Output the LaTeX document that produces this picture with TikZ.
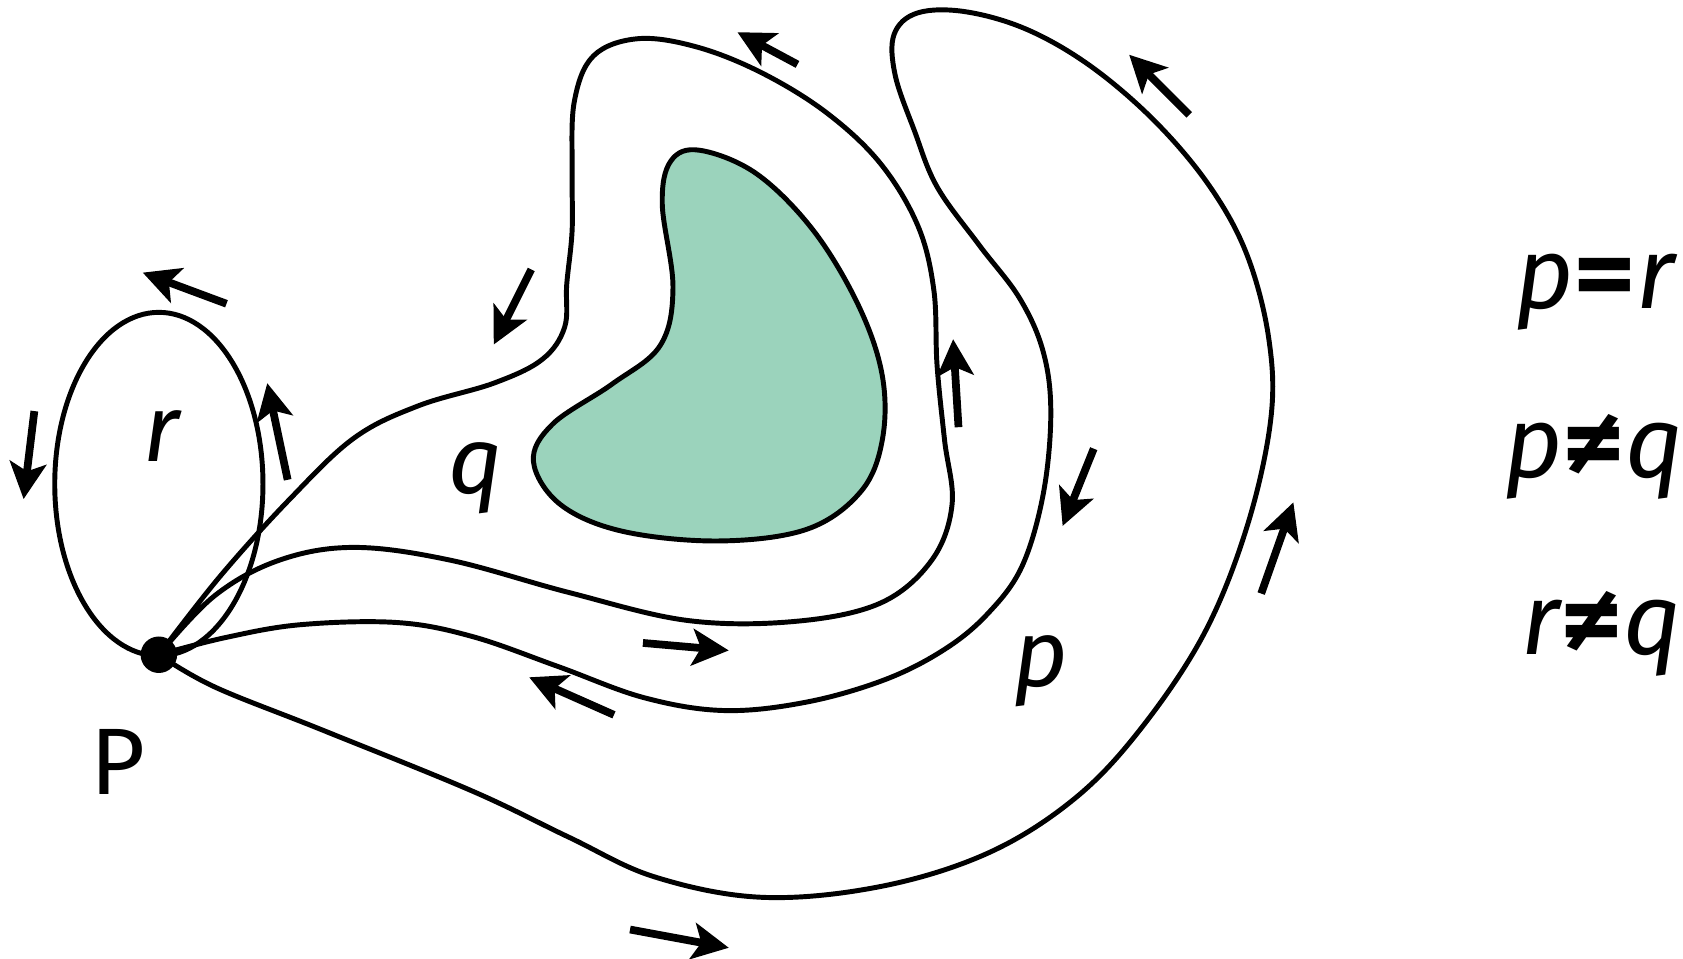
\documentclass[tikz,border=0pt]{standalone}
\usepackage{fontspec}
\setmainfont{Fira Sans}
\usetikzlibrary{arrows.meta}
\definecolor{mint}{HTML}{9BD3BC}
\newcommand{\releq}{\scalebox{1.2}[1]{\upshape\bfseries =}}
\newcommand{\relneq}{\scalebox{1.2}[1]{\upshape\bfseries ≠}}
\begin{document}
\begin{tikzpicture}[x=0.5pt,y=-0.5pt,
  curve/.style={line width=2.3pt, line join=round, line cap=round},
  dirarrow/.style={line width=3.6pt, -{Stealth[length=17pt,width=17pt,inset=4pt]}},
  lbl/.style={font=\fontsize{44}{50}\selectfont\itshape, inner sep=0pt, anchor=base},
  rel/.style={font=\fontsize{47}{54}\selectfont\itshape, inner sep=0pt, anchor=base},
  uplbl/.style={font=\fontsize{44}{50}\selectfont, inner sep=0pt, anchor=base},
  dot/.style={circle, fill=black, inner sep=0pt, minimum size=17pt}]
\useasboundingbox (0,0) rectangle (1568,893);
\coordinate (P) at (148,610);
% green region
\draw[curve, fill=mint] plot[smooth cycle, tension=0.6] coordinates {
 (652,140) (705,162) (758,215) (800,285) (822,350) (822,410) (802,458)
 (752,493) (670,504) (580,495) (522,470) (497,430) (515,395) (570,358)
 (615,322) (627,268) (617,190) (625,150)};
% loop r
\draw[curve] (148,451) ellipse [x radius=97, y radius=160];
% loop q
\draw[curve] plot[smooth, tension=0.6] coordinates {
 (P) (200,555) (260,522) (330,510) (420,522) (530,552) (640,578) (740,579)
 (820,562) (868,522) (887,470) (880,410) (873,340) (870,270) (855,210)
 (820,152) (770,105) (710,68) (650,44) (595,36) (553,52) (535,95)
 (533,160) (533,215) (528,265) (526,305) (505,335) (460,357) (390,378)
 (330,408) (270,465) (205,537) (P)};
% loop p
\draw[curve] plot[smooth, tension=0.6] coordinates {
 (P) (200,640) (300,680) (440,737) (530,780) (610,817) (710,836) (820,826)
 (920,795) (1000,745) (1062,680) (1122,590) (1162,490) (1184,390)
 (1182,315) (1162,238) (1128,175) (1078,115) (1018,63) (958,28)
 (900,11) (855,12) (833,32) (834,70) (852,122) (873,174) (912,228)
 (950,278) (972,328) (979,385) (972,460) (952,528) (920,572)
 (880,605) (825,633) (752,654) (675,662) (600,650) (520,621) (440,593)
 (370,580) (280,582) (210,594) (P)};
% point P
\node[dot] (Pdot) at (P) {};
% labels
\node[uplbl] (Plbl) at (110,740) {P};
\node[lbl] (rlbl) at (150,430) {r};
\node[lbl] (qlbl) at (443,460) {q};
\node[lbl] (plbl) at (970,640) {p};
\node[rel] (eq1) at (1486,287) {p\releq r};
\node[rel] (eq2) at (1485,445) {p\relneq q};
\node[rel] (eq3) at (1492,610) {r\relneq q};
% direction arrows
\draw[dirarrow] (211,283) -- (133,254);
\draw[dirarrow] (32,383) -- (22,465);
\draw[dirarrow] (268,447) -- (249,357);
\draw[dirarrow] (495,251) -- (460,321);
\draw[dirarrow] (743,60) -- (687,30);
\draw[dirarrow] (893,398) -- (888,316);
\draw[dirarrow] (599,599) -- (679,606);
\draw[dirarrow] (572,666) -- (493,631);
\draw[dirarrow] (1019,418) -- (990,490);
\draw[dirarrow] (1108,107) -- (1052,51);
\draw[dirarrow] (1175,553) -- (1205,468);
\draw[dirarrow] (587,866) -- (679,883);
\end{tikzpicture}
\end{document}
